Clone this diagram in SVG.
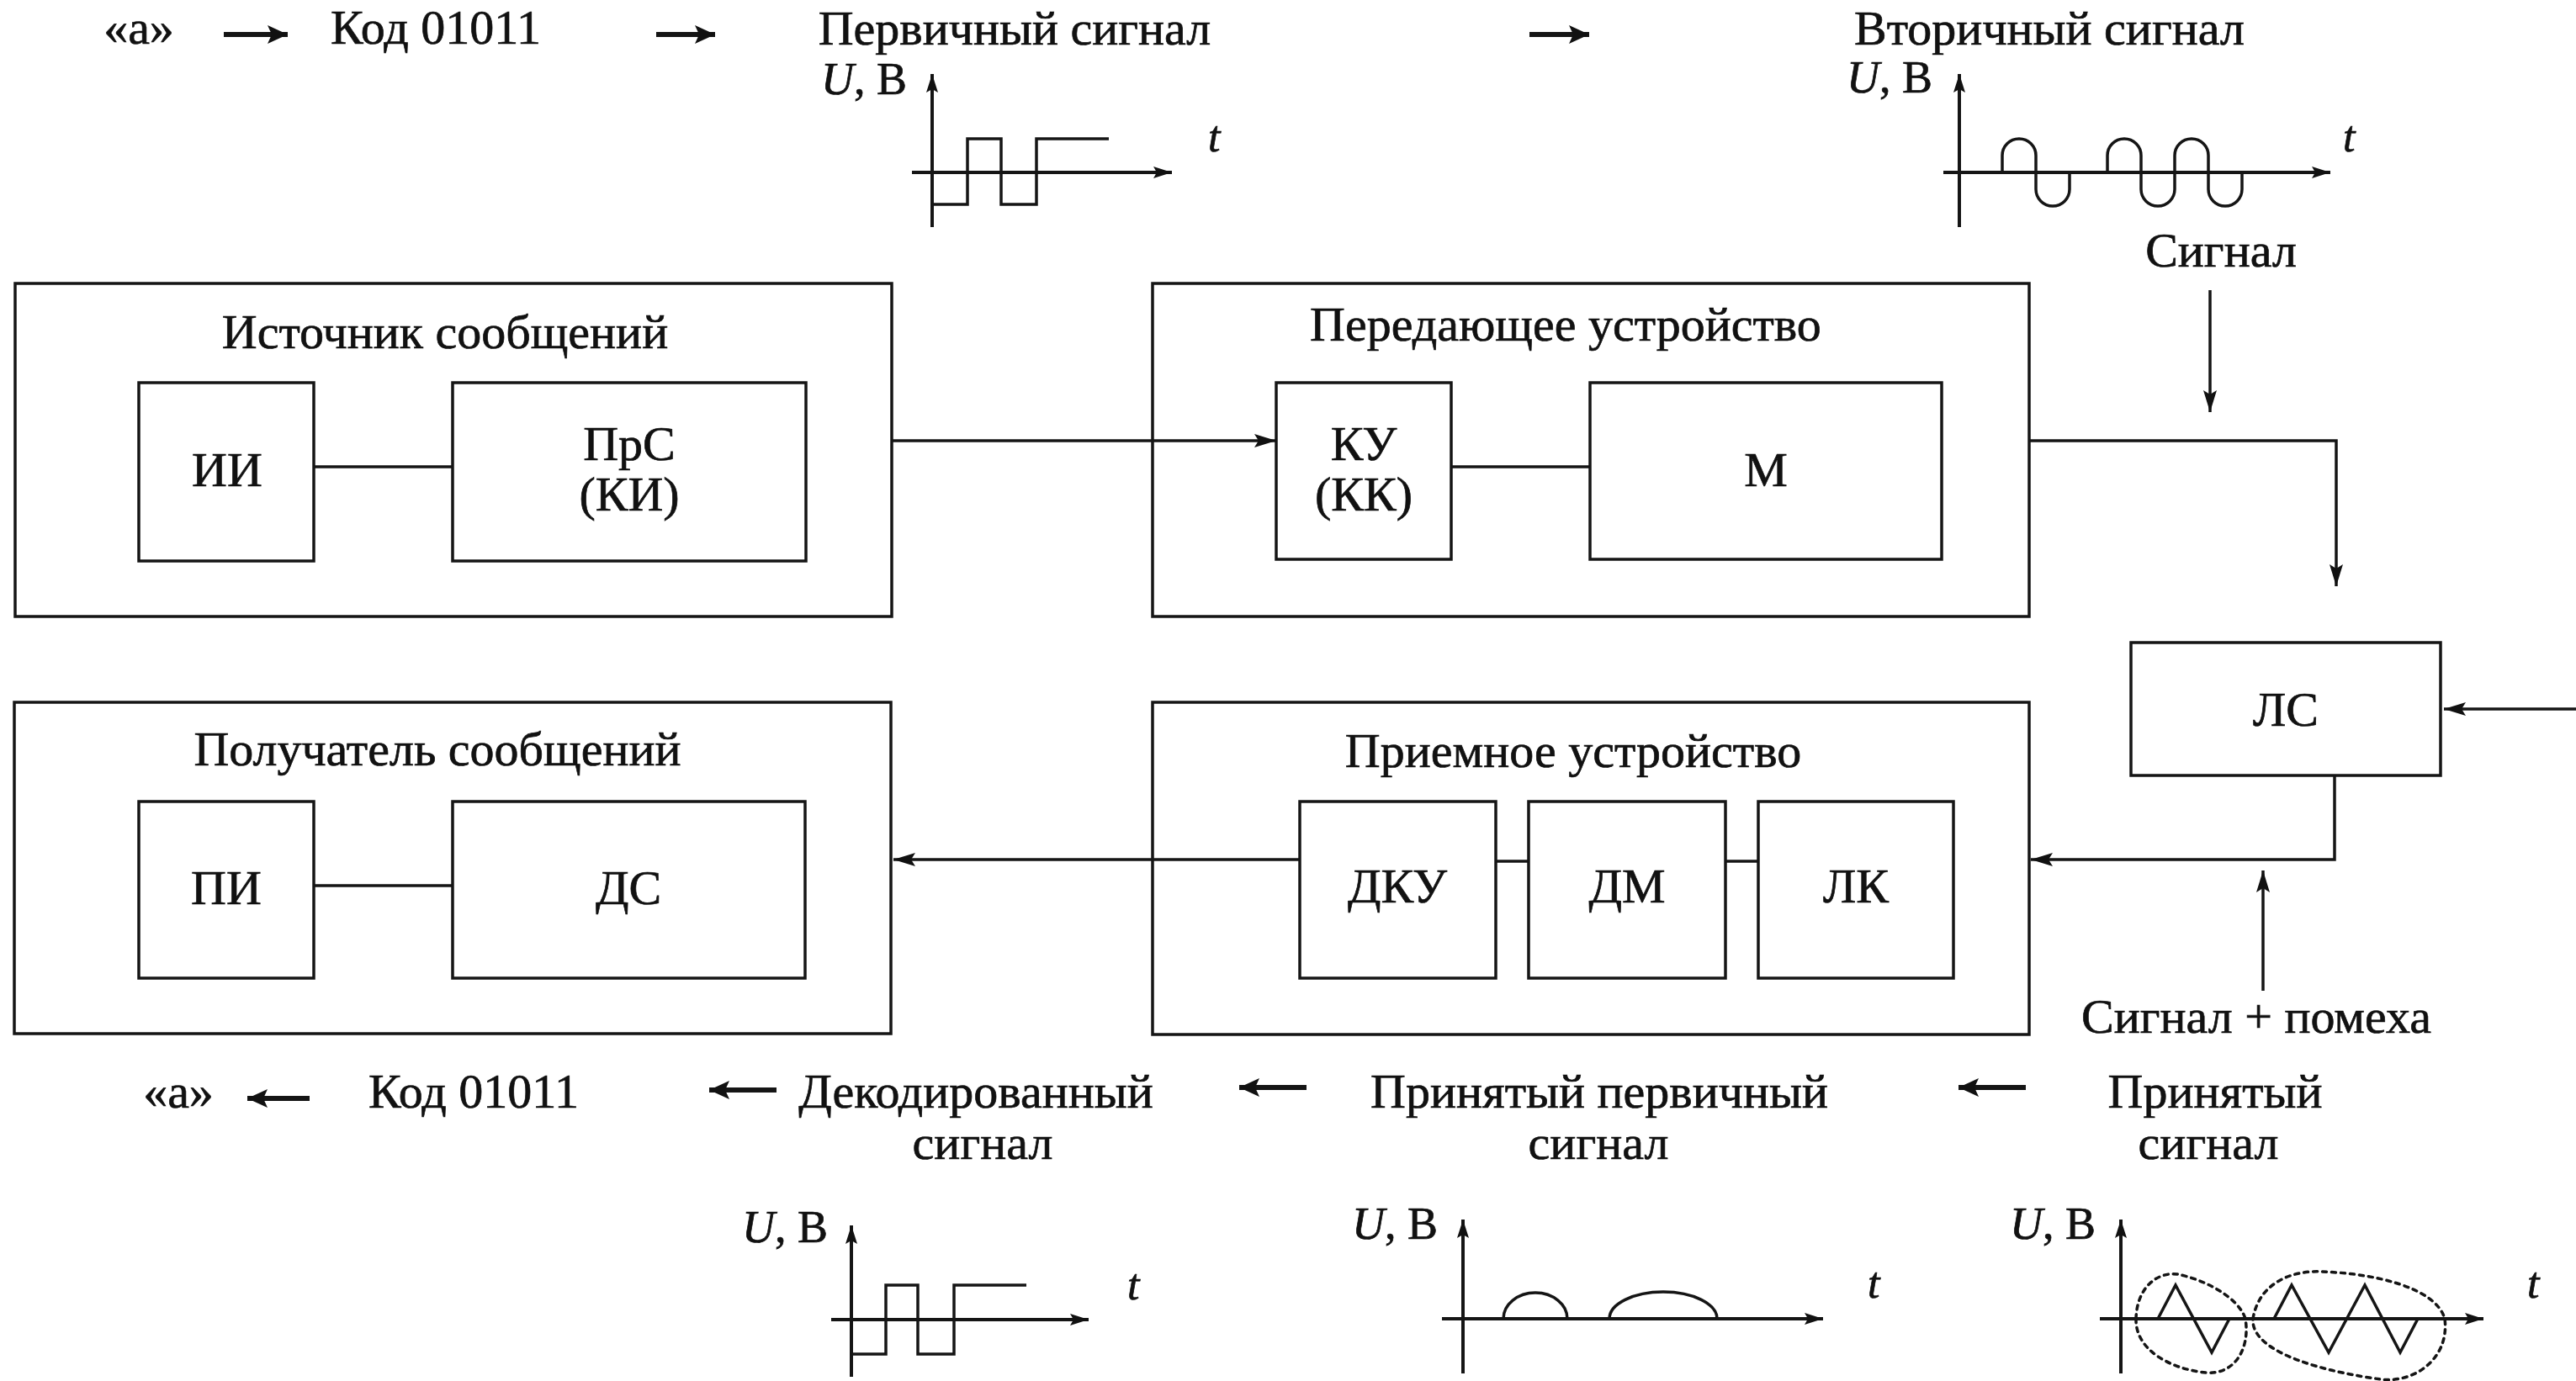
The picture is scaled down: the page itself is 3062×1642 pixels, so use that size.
<svg xmlns="http://www.w3.org/2000/svg" width="3062" height="1642" viewBox="0 0 3062 1642">
<defs>
<style>
.box{fill:none;stroke:#151515;stroke-width:3.5}
.ln{fill:none;stroke:#151515;stroke-width:3.5}
.ax{fill:none;stroke:#151515;stroke-width:4}
.wv{fill:none;stroke:#151515;stroke-width:3.5}
.dot{fill:none;stroke:#151515;stroke-width:3.5;stroke-dasharray:5 6;stroke-linecap:round}
.sa{fill:none;stroke:#151515;stroke-width:6}
text{font-family:"Liberation Serif","Times New Roman",serif;font-size:58px;fill:#111;stroke:#111;stroke-width:0.7;text-anchor:middle}
.g{font-size:54px;text-anchor:end}
.it{font-style:italic}
.tt{font-size:52px;font-style:italic;text-anchor:start}
</style>
<marker id="ah" markerUnits="userSpaceOnUse" markerWidth="30" markerHeight="20" refX="26" refY="9" orient="auto"><path d="M0,1 L26,9 L0,17 L5,9 Z" fill="#111"/></marker>
<marker id="ax" markerUnits="userSpaceOnUse" markerWidth="26" markerHeight="18" refX="22" refY="8" orient="auto"><path d="M0,1 L22,8 L0,15 L4,8 Z" fill="#111"/></marker>
<marker id="sa" markerUnits="userSpaceOnUse" markerWidth="28" markerHeight="26" refX="24" refY="12" orient="auto"><path d="M0,1 L24,12 L0,23 L5,12 Z" fill="#111"/></marker>
</defs>
<rect width="3062" height="1642" fill="#fff"/>

<g id="n-source">
<rect class="box" x="18" y="337" width="1042" height="396"/>
<text x="529" y="414">Источник сообщений</text>
</g>
<g id="n-ii">
<rect class="box" x="165" y="455" width="208" height="212"/>
<text x="270" y="578">ИИ</text>
</g>
<g id="n-prs">
<rect class="box" x="538" y="455" width="420" height="212"/>
<text x="748" y="547">ПрС</text>
<text x="748" y="607">(КИ)</text>
</g>

<g id="n-transmitter">
<rect class="box" x="1370" y="337" width="1042" height="396"/>
<text x="1861" y="405">Передающее устройство</text>
</g>
<g id="n-ku">
<rect class="box" x="1517" y="455" width="208" height="210"/>
<text x="1621" y="547">КУ</text>
<text x="1621" y="607">(КК)</text>
</g>
<g id="n-m">
<rect class="box" x="1890" y="455" width="418" height="210"/>
<text x="2099" y="578">М</text>
</g>

<g id="n-ls">
<rect class="box" x="2533" y="764" width="368" height="158"/>
<text x="2717" y="863">ЛС</text>
</g>

<g id="n-recipient">
<rect class="box" x="17" y="835" width="1042" height="394"/>
<text x="520" y="910">Получатель сообщений</text>
</g>
<g id="n-pi">
<rect class="box" x="165" y="953" width="208" height="210"/>
<text x="269" y="1075">ПИ</text>
</g>
<g id="n-ds">
<rect class="box" x="538" y="953" width="419" height="210"/>
<text x="747" y="1075">ДС</text>
</g>

<g id="n-receiver">
<rect class="box" x="1370" y="835" width="1042" height="395"/>
<text x="1870" y="912">Приемное устройство</text>
</g>
<g id="n-dku">
<rect class="box" x="1545" y="953" width="233" height="210"/>
<text x="1661" y="1073">ДКУ</text>
</g>
<g id="n-dm">
<rect class="box" x="1817" y="953" width="234" height="210"/>
<text x="1934" y="1073">ДМ</text>
</g>
<g id="n-lk">
<rect class="box" x="2090" y="953" width="232" height="210"/>
<text x="2206" y="1073">ЛК</text>
</g>

<g id="connectors">
<path class="ln" d="M373 555 H538"/>
<path class="ln" d="M1725 555 H1890"/>
<path class="ln" d="M373 1053 H538"/>
<path class="ln" d="M1778 1024 H1817"/>
<path class="ln" d="M2051 1024 H2090"/>
<path class="ln" d="M1060 524 H1517" marker-end="url(#ah)"/>
<path class="ln" d="M2412 524 H2777 V697" marker-end="url(#ah)"/>
<path class="ln" d="M2627 345 V490" marker-end="url(#ah)"/>
<path class="ln" d="M3062 843 H2905" marker-end="url(#ah)"/>
<path class="ln" d="M2775 922 V1022 H2414" marker-end="url(#ah)"/>
<path class="ln" d="M2690 1178 V1035" marker-end="url(#ah)"/>
<path class="ln" d="M1545 1022 H1062" marker-end="url(#ah)"/>
</g>

<g id="flow-labels">
<text x="165" y="52">«а»</text>
<path class="sa" d="M266 41 H342" marker-end="url(#sa)"/>
<text x="518" y="52">Код 01011</text>
<path class="sa" d="M780 41 H850" marker-end="url(#sa)"/>
<text x="1206" y="53">Первичный сигнал</text>
<path class="sa" d="M1818 41 H1889" marker-end="url(#sa)"/>
<text x="2436" y="53">Вторичный сигнал</text>
<text x="2640" y="317">Сигнал</text>
<text x="2682" y="1228">Сигнал + помеха</text>

<text x="212" y="1317">«а»</text>
<path class="sa" d="M368 1306 H294" marker-end="url(#sa)"/>
<text x="563" y="1317">Код 01011</text>
<path class="sa" d="M923 1296 H843" marker-end="url(#sa)"/>
<text x="1160" y="1317">Декодированный</text>
<text x="1168" y="1378">сигнал</text>
<path class="sa" d="M1553 1293 H1473" marker-end="url(#sa)"/>
<text x="1901" y="1317">Принятый первичный</text>
<text x="1900" y="1378">сигнал</text>
<path class="sa" d="M2408 1293 H2328" marker-end="url(#sa)"/>
<text x="2633" y="1317">Принятый</text>
<text x="2625" y="1378">сигнал</text>
</g>

<g id="graph-primary">
<text class="g" x="1078" y="112"><tspan class="it">U</tspan>, В</text>
<path class="ax" d="M1108 270 V88" marker-end="url(#ax)"/>
<path class="ax" d="M1084 205 H1393" marker-end="url(#ax)"/>
<path class="wv" d="M1110 243 H1150 V165 H1190 V243 H1232 V165 H1318"/>
<text class="tt" x="1436" y="180">t</text>
</g>

<g id="graph-secondary">
<text class="g" x="2297" y="110"><tspan class="it">U</tspan>, В</text>
<path class="ax" d="M2329 270 V88" marker-end="url(#ax)"/>
<path class="ax" d="M2310 205 H2770" marker-end="url(#ax)"/>
<path class="wv" d="M2380 205 V185 A20 20 0 0 1 2420 185 V225 A20 20 0 0 0 2460 225 V205"/>
<path class="wv" d="M2505 205 V185 A20 20 0 0 1 2545 185 V225 A20 20 0 0 0 2585 225 V185 A20 20 0 0 1 2625 185 V225 A20 20 0 0 0 2665 225 V205"/>
<text class="tt" x="2785" y="180">t</text>
</g>

<g id="graph-decoded">
<text class="g" x="984" y="1477"><tspan class="it">U</tspan>, В</text>
<path class="ax" d="M1012 1637 V1457" marker-end="url(#ax)"/>
<path class="ax" d="M988 1569 H1294" marker-end="url(#ax)"/>
<path class="wv" d="M1014 1610 H1053 V1528 H1091 V1610 H1134 V1528 H1220"/>
<text class="tt" x="1340" y="1545">t</text>
</g>

<g id="graph-received-primary">
<text class="g" x="1709" y="1473"><tspan class="it">U</tspan>, В</text>
<path class="ax" d="M1739 1633 V1450" marker-end="url(#ax)"/>
<path class="ax" d="M1714 1568 H2167" marker-end="url(#ax)"/>
<path class="wv" d="M1787 1568 A38 31 0 0 1 1863 1568"/>
<path class="wv" d="M1913 1568 A64 32 0 0 1 2041 1568"/>
<text class="tt" x="2220" y="1543">t</text>
</g>

<g id="graph-received">
<text class="g" x="2491" y="1473"><tspan class="it">U</tspan>, В</text>
<path class="ax" d="M2521 1633 V1450" marker-end="url(#ax)"/>
<path class="ax" d="M2496 1568 H2952" marker-end="url(#ax)"/>
<path class="wv" d="M2565 1568 L2586 1528 L2629 1608 L2650 1568"/>
<path class="wv" d="M2703 1568 L2724 1528 L2768 1608 L2811 1528 L2853 1608 L2874 1568"/>
<path class="dot" d="M2539 1568 C2540 1530 2565 1512 2588 1515 C2615 1520 2660 1540 2669 1568 C2675 1605 2655 1635 2622 1632 C2580 1628 2538 1605 2539 1568 Z"/>
<path class="dot" d="M2678 1568 C2685 1525 2725 1510 2760 1512 C2820 1514 2895 1530 2906 1568 C2912 1615 2870 1645 2830 1640 C2770 1632 2675 1610 2678 1568 Z"/>
<text class="tt" x="3004" y="1543">t</text>
</g>
</svg>
